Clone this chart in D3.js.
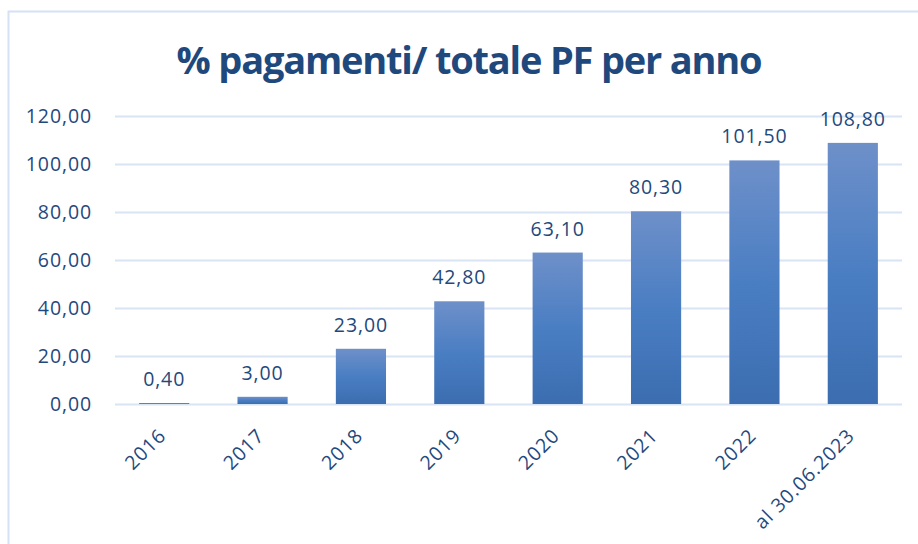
<!DOCTYPE html>
<html>
<head>
<meta charset="utf-8">
<script src="https://cdn.jsdelivr.net/npm/d3@7"></script>
<style>
  body { margin: 0; background: #fff; }
  svg { display: block; }
</style>
</head>
<body>
<div id="chart"></div>
<script>
const categories = ["2016", "2017", "2018", "2019", "2020", "2021", "2022", "al 30.06.2023"];
const values = [0.40, 3.00, 23.00, 42.80, 63.10, 80.30, 101.50, 108.80];
const yTicks = [0, 20, 40, 60, 80, 100, 120];
const title = "% pagamenti/ totale PF per anno";

const W = 918, H = 544;
const margin = { top: 116, right: 16, bottom: 140, left: 115 };
const textColor = "#1f497d";
const fmt = v => v.toFixed(2).replace(".", ",");

const svg = d3.select("#chart").append("svg")
    .attr("width", W)
    .attr("height", H);

// gradient for the bars
const grad = svg.append("defs").append("linearGradient")
    .attr("id", "barGrad")
    .attr("x1", 0).attr("y1", 0).attr("x2", 0).attr("y2", 1);
grad.append("stop").attr("offset", "0%").attr("stop-color", "#6e90c9");
grad.append("stop").attr("offset", "50%").attr("stop-color", "#4a7ec3");
grad.append("stop").attr("offset", "100%").attr("stop-color", "#3b6db0");

// chart frame
svg.append("rect")
    .attr("x", 8.5).attr("y", 11.5)
    .attr("width", W + 20).attr("height", H + 20)
    .attr("fill", "none")
    .attr("stroke", "#d6e2f3")
    .attr("stroke-width", 2);

svg.append("text")
    .attr("x", 469).attr("y", 74)
    .attr("text-anchor", "middle")
    .style("font-family", "'Open Sans', sans-serif")
    .style("font-weight", "bold")
    .style("font-size", "38px")
    .style("letter-spacing", "-1.2px")
    .attr("fill", textColor)
    .text(title);

const x = d3.scaleBand()
    .domain(categories)
    .range([margin.left, W - margin.right])
    .paddingInner(0.49)
    .paddingOuter(0.245);

const y = d3.scaleLinear()
    .domain([0, 120])
    .range([H - margin.bottom, margin.top]);

const labelStyle = sel => sel
    .attr("fill", textColor)
    .style("font-family", "'Open Sans', sans-serif")
    .style("font-size", "19.5px")
    .style("letter-spacing", "0.9px");

// gridlines + y labels
const yAxis = svg.append("g")
    .attr("transform", `translate(${margin.left},0)`)
    .call(d3.axisLeft(y).tickValues(yTicks).tickFormat(fmt)
        .tickSize(-(W - margin.left - margin.right)).tickPadding(23));
yAxis.select(".domain").remove();
yAxis.selectAll("line")
    .attr("stroke", "#d9e4f4")
    .attr("stroke-width", 2);
yAxis.selectAll("text").call(labelStyle);

// bars
svg.append("g")
    .selectAll("rect")
    .data(values)
    .join("rect")
    .attr("x", (d, i) => x(categories[i]))
    .attr("y", d => y(d))
    .attr("width", x.bandwidth())
    .attr("height", d => y(0) - y(d))
    .attr("fill", "url(#barGrad)");

// data labels
svg.append("g")
    .selectAll("text")
    .data(values)
    .join("text")
    .attr("x", (d, i) => x(categories[i]) + x.bandwidth() / 2)
    .attr("y", d => y(d) - 17)
    .attr("text-anchor", "middle")
    .call(labelStyle)
    .text(fmt);

// x axis labels
const xAxis = svg.append("g")
    .attr("transform", `translate(0,${y(0)})`)
    .call(d3.axisBottom(x).tickSize(0).tickPadding(0));
xAxis.select(".domain").remove();
xAxis.selectAll("text")
    .call(labelStyle)
    .attr("text-anchor", "end")
    .attr("dy", null)
    .attr("transform", "translate(3,33) rotate(-45)");
</script>
</body>
</html>
